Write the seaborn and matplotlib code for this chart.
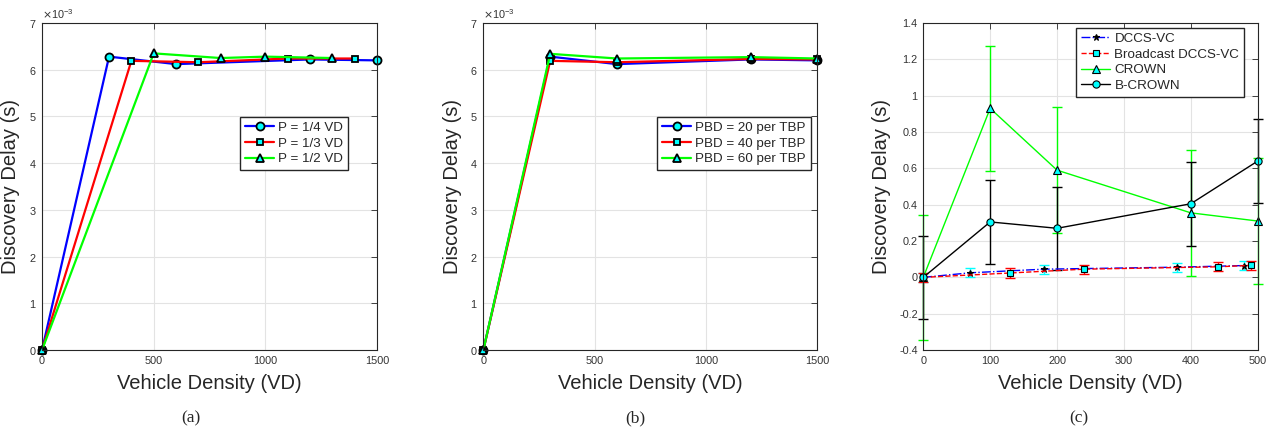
import matplotlib
matplotlib.use("Agg")
import matplotlib.pyplot as plt
import seaborn as sns
import numpy as np
from matplotlib.ticker import FuncFormatter

sns.set_style("whitegrid")
plt.rcParams['font.family'] = ['Liberation Sans', 'DejaVu Sans']

# panel (a): partition size
a_x_q = [0, 300, 600, 1200, 1500]
a_y_q = [0, 6.28e-3, 6.12e-3, 6.22e-3, 6.20e-3]
a_x_t = [0, 400, 700, 1100, 1400]
a_y_t = [0, 6.19e-3, 6.16e-3, 6.24e-3, 6.24e-3]
a_x_h = [0, 500, 800, 1000, 1300]
a_y_h = [0, 6.35e-3, 6.25e-3, 6.28e-3, 6.25e-3]
a_labels = ['P = 1/4 VD', 'P = 1/3 VD', 'P = 1/2 VD']

# panel (b): PBD per TBP
b_x = [0, 300, 600, 1200, 1500]
b_y20 = [0, 6.28e-3, 6.12e-3, 6.22e-3, 6.20e-3]
b_y40 = [0, 6.19e-3, 6.16e-3, 6.23e-3, 6.22e-3]
b_y60 = [0, 6.34e-3, 6.24e-3, 6.27e-3, 6.24e-3]
b_labels = ['PBD = 20 per TBP', 'PBD = 40 per TBP', 'PBD = 60 per TBP']

# panel (c): comparison with error bars
c_x_dccs = [0, 70, 180, 380, 480]
c_y_dccs = [0, 0.025, 0.045, 0.056, 0.065]
c_e_dccs = [0.025, 0.025, 0.025, 0.025, 0.025]
c_x_bdccs = [0, 130, 240, 440, 490]
c_y_bdccs = [0, 0.024, 0.045, 0.058, 0.066]
c_e_bdccs = [0.025, 0.025, 0.025, 0.025, 0.025]
c_x_crown = [0, 100, 200, 400, 500]
c_y_crown = [0, 0.93, 0.59, 0.355, 0.31]
c_e_crown = [0.345, 0.345, 0.345, 0.345, 0.345]
c_x_bcrown = [0, 100, 200, 400, 500]
c_y_bcrown = [0, 0.305, 0.27, 0.405, 0.64]
c_e_bcrown = [0.23, 0.23, 0.23, 0.23, 0.23]
c_labels = ['DCCS-VC', 'Broadcast DCCS-VC', 'CROWN', 'B-CROWN']

dark = '#262626'
fig = plt.figure(figsize=(12.7, 4.34), dpi=100)
ax_a = fig.add_axes([0.0331, 0.1935, 0.2638, 0.7535])
ax_b = fig.add_axes([0.3806, 0.1935, 0.2630, 0.7535])
ax_c = fig.add_axes([0.7270, 0.1935, 0.2633, 0.7535])


def style(ax):
    ax.grid(True, color='#e3e3e3', linewidth=0.8)
    ax.set_axisbelow(True)
    for s in ax.spines.values():
        s.set_color(dark)
        s.set_linewidth(0.8)
        s.set_visible(True)
    ax.tick_params(direction='in', length=4, width=0.6, color=dark, labelcolor='#333333',
                   labelsize=7.8, top=True, right=True, pad=4)
    ax.set_xlabel('Vehicle Density (VD)', fontsize=14.5, color=dark, labelpad=6)
    ax.set_ylabel('Discovery Delay (s)', fontsize=14.5, color=dark, labelpad=6)


mk = dict(markerfacecolor='cyan', markeredgecolor='black', markeredgewidth=1.3, clip_on=False)

# (a)
sns.lineplot(x=a_x_q, y=a_y_q, ax=ax_a, color='blue', lw=1.6, marker='o', ms=5.8, label=a_labels[0], **mk)
sns.lineplot(x=a_x_t, y=a_y_t, ax=ax_a, color='red', lw=1.6, marker='s', ms=4.2, label=a_labels[1], **mk)
sns.lineplot(x=a_x_h, y=a_y_h, ax=ax_a, color='#00ff00', lw=1.6, marker='^', ms=6.3, label=a_labels[2], **mk)

# (b)
sns.lineplot(x=b_x, y=b_y20, ax=ax_b, color='blue', lw=1.6, marker='o', ms=5.8, label=b_labels[0], **mk)
sns.lineplot(x=b_x, y=b_y40, ax=ax_b, color='red', lw=1.6, marker='s', ms=4.2, label=b_labels[1], **mk)
sns.lineplot(x=b_x, y=b_y60, ax=ax_b, color='#00ff00', lw=1.6, marker='^', ms=6.3, label=b_labels[2], **mk)

for ax in (ax_a, ax_b):
    style(ax)
    ax.set_xlim(0, 1500)
    ax.set_ylim(0, 7e-3)
    ax.set_xticks([0, 500, 1000, 1500])
    ax.set_yticks(np.arange(0, 8) * 1e-3)
    ax.ticklabel_format(style='sci', axis='y', scilimits=(0, 0), useMathText=True)
    ax.yaxis.get_offset_text().set_fontsize(7.8)
    ax.yaxis.get_offset_text().set_color('#333333')

leg_kw = dict(loc='upper right', fontsize=9.6, frameon=True, fancybox=False,
              edgecolor=dark, framealpha=1, handlelength=2.2, borderpad=0.35,
              labelspacing=0.25, handletextpad=0.3, borderaxespad=0)
la = ax_a.legend(bbox_to_anchor=(0.913, 0.713), **leg_kw)
lb = ax_b.legend(bbox_to_anchor=(0.98, 0.713), **leg_kw)

# (c)
ek = dict(fmt='none', elinewidth=1, capsize=3.5, clip_on=False)
ax_c.errorbar(c_x_crown, c_y_crown, yerr=c_e_crown, ecolor='#00ff00', **ek)
ax_c.errorbar(c_x_bcrown, c_y_bcrown, yerr=c_e_bcrown, ecolor='black', **ek)
ax_c.errorbar(c_x_dccs, c_y_dccs, yerr=c_e_dccs, ecolor='cyan', **ek)
ax_c.errorbar(c_x_bdccs, c_y_bdccs, yerr=c_e_bdccs, ecolor='red', **ek)
mc = dict(markeredgecolor='black', markeredgewidth=0.8, clip_on=False)
sns.lineplot(x=c_x_dccs, y=c_y_dccs, ax=ax_c, color='blue', lw=1, ls='-.', marker='*', ms=5,
             markerfacecolor='black', label=c_labels[0], **mc)
sns.lineplot(x=c_x_bdccs, y=c_y_bdccs, ax=ax_c, color='red', lw=1, ls='--', marker='s', ms=4,
             markerfacecolor='cyan', label=c_labels[1], **mc)
sns.lineplot(x=c_x_crown, y=c_y_crown, ax=ax_c, color='#00ff00', lw=1, marker='^', ms=5.8,
             markerfacecolor='cyan', label=c_labels[2], **mc)
sns.lineplot(x=c_x_bcrown, y=c_y_bcrown, ax=ax_c, color='black', lw=1, marker='o', ms=5.2,
             markerfacecolor='cyan', label=c_labels[3], **mc)
style(ax_c)
ax_c.set_xlim(0, 500)
ax_c.set_ylim(-0.4, 1.4)
ax_c.set_xticks(np.arange(0, 600, 100))
ax_c.set_yticks(np.round(np.arange(-0.4, 1.41, 0.2), 1))
ax_c.yaxis.set_major_formatter(FuncFormatter(lambda v, p: '%g' % round(v, 1)))
lc = ax_c.legend(bbox_to_anchor=(0.959, 0.985), **leg_kw)

for x, t in [(0.1504, '(a)'), (0.5, '(b)'), (0.8496, '(c)')]:
    fig.text(x, 0.037, t, ha='center', va='center', fontsize=12.5, family='Liberation Serif')

fig.savefig('out.png', dpi=100)
